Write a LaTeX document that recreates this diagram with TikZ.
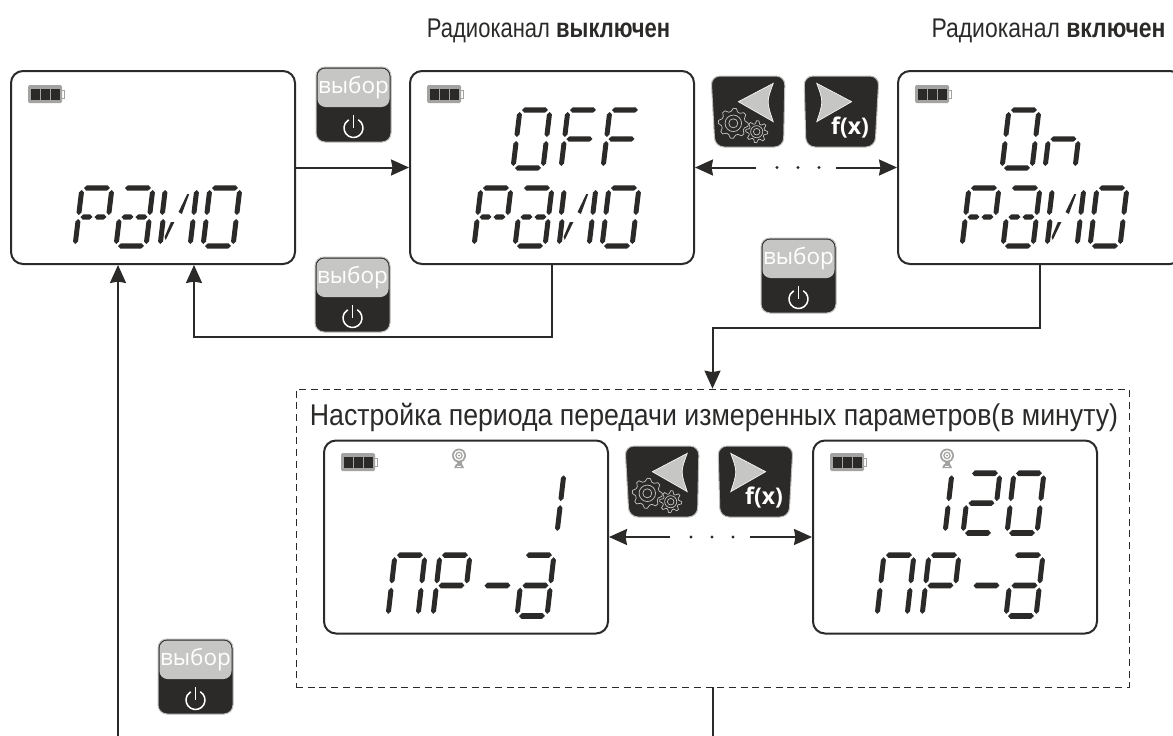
\documentclass[tikz,border=0pt]{standalone}
\usepackage{fontspec}
\setmainfont{Liberation Sans}
\newfontfamily\btnfont{Open Sans}
\usetikzlibrary{arrows.meta,positioning}
\definecolor{ink}{HTML}{2B2A29}
\definecolor{btngray}{HTML}{C6C6C4}
\definecolor{btnedge}{HTML}{BDBDBB}
\definecolor{battgray}{HTML}{A3A3A1}

\newcommand{\lcdh}[3]{\fill[ink] (#1,#3) -- (#1+2.7,#3-2.7) -- (#2-2.7,#3-2.7) -- (#2,#3) -- (#2-2.7,#3+2.7) -- (#1+2.7,#3+2.7) -- cycle;}
\newcommand{\lcdv}[3]{\fill[ink] (#1,#2) -- (#1+2.5,#2+2.5) -- (#1+2.5,#3-2.5) -- (#1,#3) -- (#1-2.5,#3-2.5) -- (#1-2.5,#2+2.5) -- cycle;}
\newcommand{\lcdsega}{\lcdh{2}{28}{-58}}
\newcommand{\lcdsegb}{\lcdv{30}{-56}{-31}}
\newcommand{\lcdsegc}{\lcdv{30}{-27}{-2}}
\newcommand{\lcdsegd}{\lcdh{2}{28}{0}}
\newcommand{\lcdsege}{\lcdv{0}{-27}{-2}}
\newcommand{\lcdsegf}{\lcdv{0}{-56}{-31}}
\newcommand{\lcdsegg}{\lcdh{2}{28}{-29}}
% split middle bar
\newcommand{\lcdsegp}{\lcdh{2}{14}{-29}}
\newcommand{\lcdsegq}{\lcdh{16}{28}{-29}}
% the extra strokes of the letter
\newcommand{\lcdsegm}{\lcdv{-1.5}{-56}{-31}}
\newcommand{\lcdsegi}{\fill[ink] (8,-24) -- (11.5,-24) -- (5,-6) -- (3.5,-9) -- cycle;}
\newcommand{\lcdsegj}{\fill[ink] (21,-52) -- (23,-52) -- (18,-32) -- (14.5,-34) -- cycle;}

\tikzset{
	lcdscreen/.style={rectangle,draw=ink,line width=2pt,rounded corners=12pt,fill=white,
		minimum width=284pt,minimum height=193pt,inner sep=0pt},
	framebox/.style={rectangle,draw=ink,line width=0.7pt,dash pattern=on 7pt off 4.7pt,
		minimum width=833pt,minimum height=298pt,inner sep=0pt},
	conn/.style={draw=ink,line width=2pt,-{Stealth[length=18pt,width=16pt,inset=1.5pt]}},
	connplain/.style={draw=ink,line width=2pt},
	caption/.style={inner sep=0pt,text=ink},
	gearline/.style={draw=btngray,line width=0.7pt},
	lcd/.pic={
		\begin{scope}[xslant=0.12]
			\foreach \s in {#1} {\csname lcdseg\s\endcsname}
		\end{scope}
	},
	battery/.pic={
		\draw[draw=battgray,fill=white,line width=0.8pt] (33,5) rectangle (36,13);
		\fill[battgray,rounded corners=1.5pt] (0,0) rectangle (34,18);
		\foreach \n in {3,13,23} {\fill[ink] (\n,3.5) rectangle ++(8.6,11);}
	},
	antenna/.pic={
		\fill[battgray] (0,0) circle (7);
		\fill[white] (0,0) circle (5.3);
		\fill[battgray] (0,0) circle (3.8);
		\fill[white] (0,0) circle (2.4);
		\fill[battgray] (0,0) circle (1.2);
		\fill[battgray] (-2.5,6.5) rectangle (2.5,8.5);
		\fill[battgray] (-3,8.5) -- (3,8.5) -- (5,12.5) -- (-5,12.5) -- cycle;
		\fill[white] (-2,10) rectangle (2,10.8);
	},
	selectbtn/.pic={
		\draw[fill=ink,draw=btnedge,line width=1pt,rounded corners=9pt] (0,0) rectangle (75,75);
		\fill[btngray,rounded corners=8pt] (1.5,1.5) rectangle (73.5,40);
		\node[text=white,font=\btnfont\fontsize{22.5}{22.5}\selectfont,inner sep=0pt] (-word) at (37.5,21) {выбор};
		\draw[white,line width=1.5pt] (37.5,61)++(-60:9.5) arc[start angle=-60,end angle=240,radius=9.5];
		\draw[white,line width=1.5pt] (37.5,48) -- (37.5,61);
	},
	backbtn/.pic={
		\draw[fill=ink,draw=btnedge,line width=1pt,rounded corners=9pt] (0,0) -- (74,0) -- (72.5,71) -- (4,71) -- cycle;
		\draw[fill=btngray,draw=white,line width=0.6pt] (27.3,25.7) -- (62.3,7.3) .. controls (55.5,25.7) .. (62.3,45.7) -- cycle;
		\foreach \cx/\cy/\rr/\nn in {22.3/47.3/15/8,45.7/55.7/11/8} {
			\draw[gearline,fill=ink,shift={(\cx,\cy)}] plot[variable=\i,domain=0:4*\nn,samples=4*\nn+1]
				(\i*90/\nn:{mod(round(\i),4)<2 ? \rr : \rr-3}) -- cycle;
			\draw[gearline,shift={(\cx,\cy)}] (0,0) circle ({\rr*0.3});
			\draw[gearline,shift={(\cx,\cy)}] (0,0) circle ({\rr*0.55});
		}
	},
	nextbtn/.pic={
		\draw[fill=ink,draw=btnedge,line width=1pt,rounded corners=9pt] (0,0) -- (75,0) -- (71,71) -- (2,71) -- cycle;
		\draw[fill=btngray,draw=white,line width=0.6pt] (47.7,25.7) -- (12.7,7.3) .. controls (19.4,25.7) .. (12.7,45.7) -- cycle;
		\node[text=white,font=\btnfont\bfseries\fontsize{23}{23}\selectfont,inner sep=0pt] (-fx) at (46,52) {f(x)};
	}
}

\begin{document}
\begin{tikzpicture}[x=1pt,y=-1pt]
	\useasboundingbox (0,0) rectangle (1173,736);
	\clip (0,0) rectangle (1173,736);
	\node[caption,font=\fontsize{27}{27}\selectfont] (labeloff) at (548.5,31) {\scalebox{0.815}[1]{Радиоканал \textbf{выключен}}};
	\node[caption,font=\fontsize{27}{27}\selectfont] (labelon) at (1048.5,31) {\scalebox{0.85}[1]{Радиоканал \textbf{включен}}};

	\node[lcdscreen] (radio) at (153,167.5) {};
	\node[lcdscreen] (off) at (552,167.5) {};
	\node[lcdscreen] (on) at (1040,167.5) {};
	\node[lcdscreen] (period one) at (466,537) {};
	\node[lcdscreen] (period max) at (955,537) {};
	\node[framebox] (frame) at (712.5,538) {};
	\node[caption,font=\fontsize{30}{30}\selectfont] (labelperiod) at (714,417) {\scalebox{0.89}[1]{Настройка периода передачи измеренных параметров(в минуту)}};

	\coordinate (radio up) at (118,736);
	\coordinate (frame out) at (712.5,736);
	\coordinate (off dash) at (756,167.5);
	\coordinate (on dash) at (836,167.5);
	\coordinate (one dash) at (670,537);
	\coordinate (max dash) at (750,537);

	\foreach \xx in {28,427,915} {\pic at (\xx,85) {battery};}
	\foreach \xx in {341,830} {\pic at (\xx,453) {battery};}
	\pic at (459,455.5) {antenna};
	\pic at (947,455.5) {antenna};

	\foreach \dx in {0,399,887} {
		\pic at (75+\dx,246) {lcd={a,b,e,f,p,q}};
		\pic at (116+\dx,246) {lcd={a,b,c,d,e,p,q}};
		\pic at (160+\dx,246) {lcd={m,e,i,j,b,c}};
		\pic at (203+\dx,246) {lcd={a,b,c,d,e,f}};
	}
	\pic at (513,168) {lcd={a,b,c,d,e,f}};
	\pic at (561,168) {lcd={a,e,f,g}};
	\pic at (603,168) {lcd={a,e,f,g}};
	\pic at (1002,168) {lcd={a,b,c,d,e,f}};
	\pic at (1045,168) {lcd={c,e,g}};

	\foreach \dx in {0,489} {
		\pic[yscale=1.05] at (388+\dx,616) {lcd={a,b,c,e,f}};
		\pic[yscale=1.05] at (433+\dx,616) {lcd={a,b,e,f,g}};
		\pic[yscale=1.05] at (479+\dx,616) {lcd={g}};
		\pic[yscale=1.05] at (517+\dx,616) {lcd={a,b,c,d,e,g}};
	}
	\pic[yscale=1.03] at (557,533) {lcd={e,f}};
	\pic[yscale=1.03] at (945,533) {lcd={e,f}};
	\pic[yscale=1.03] at (963,533) {lcd={a,b,d,e,g}};
	\pic[yscale=1.03] at (1007,533) {lcd={a,b,c,d,e,f}};

	\pic (select a) at (316,67) {selectbtn};
	\pic (select b) at (315,257) {selectbtn};
	\pic (select c) at (761,238) {selectbtn};
	\pic (select d) at (158,639) {selectbtn};
	\pic (back a) at (711,76) {backbtn};
	\pic (next a) at (804,76) {nextbtn};
	\pic (back b) at (625,446) {backbtn};
	\pic (next b) at (718,446) {nextbtn};

	\path[conn] (radio.east) -- (off.west);
	\path[conn] (off.south) |- (194,337) -- ([xshift=41pt]radio.south);
	\path[conn] (radio up) -- ([xshift=-35pt]radio.south);
	\path[conn] (on.south) -- ++(0,63) -| (frame.north);
	\path[connplain] (frame.south) -- (frame out);
	\path[conn] (off dash) -- (off.east);
	\path[conn] (on dash) -- (on.west);
	\path[conn] (one dash) -- (period one.east);
	\path[conn] (max dash) -- (period max.west);
	\foreach \xx in {777,798,819} {\fill[ink] (\xx,167.5) circle (1.7);}
	\foreach \xx in {691,712,733} {\fill[ink] (\xx,537) circle (1.7);}
\end{tikzpicture}
\end{document}
